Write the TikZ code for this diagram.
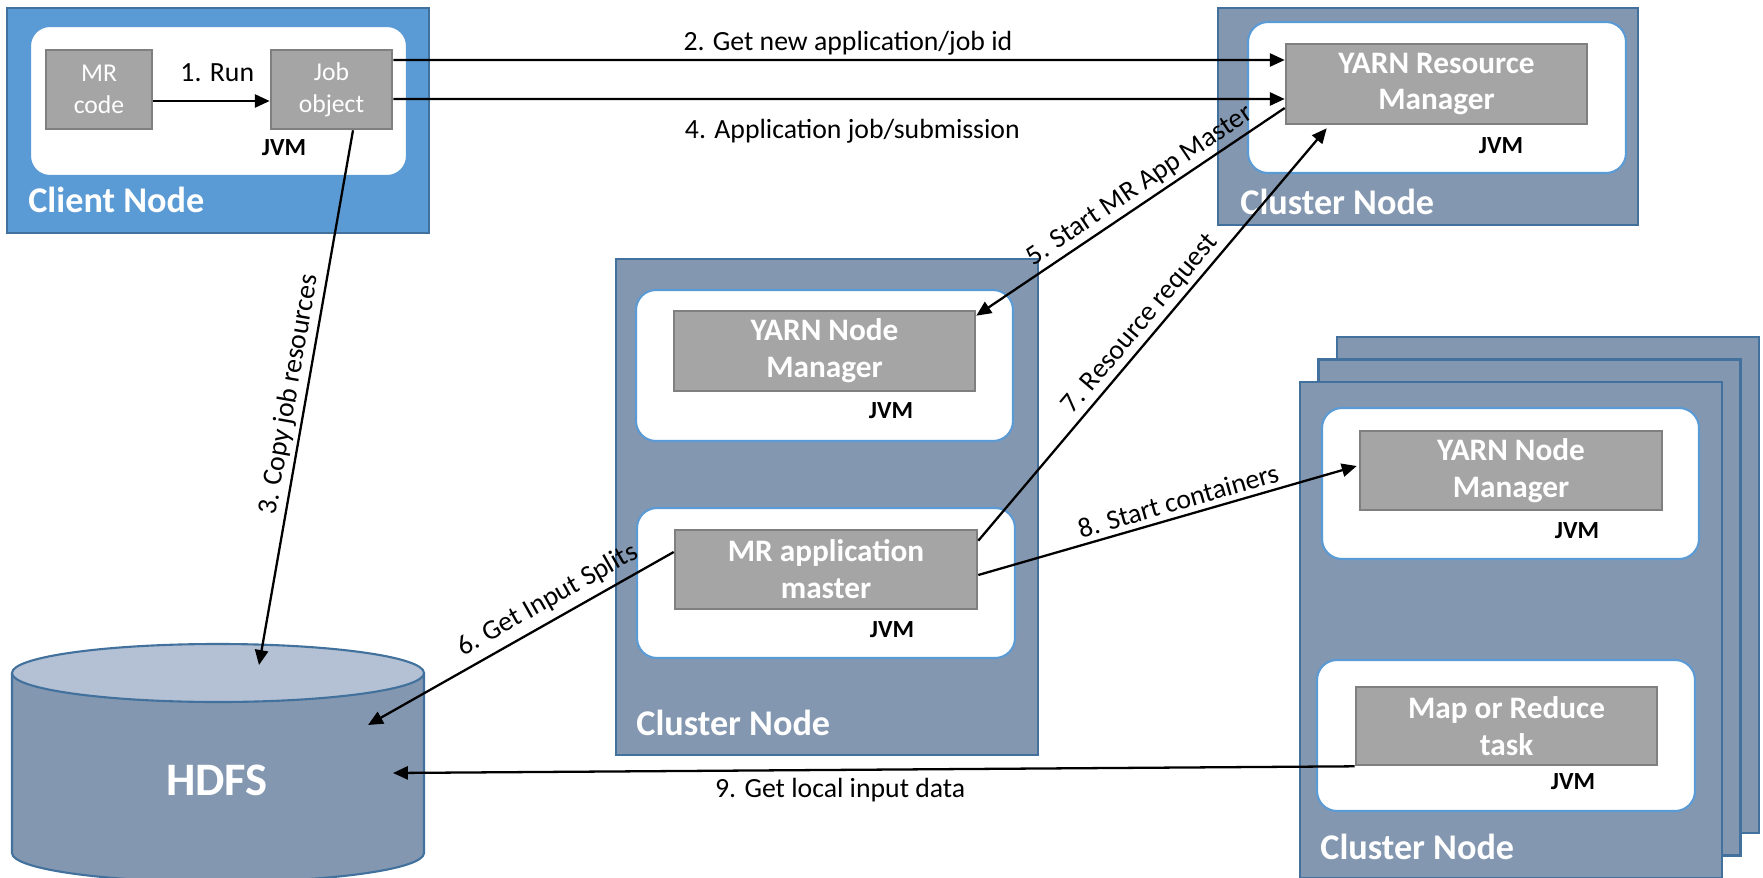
\documentclass[tikz,border=0pt]{standalone}
\usepackage{fontspec}
\setmainfont{Carlito}
\usetikzlibrary{arrows.meta}

\definecolor{clientblue}{HTML}{5B9BD5}
\definecolor{edgeblue}{HTML}{41719C}
\definecolor{clustergray}{HTML}{8497B0}
\definecolor{hdfstop}{HTML}{B4C0D3}
\definecolor{boxgray}{HTML}{A5A5A5}
\definecolor{boxedge}{HTML}{7F7F7F}

\tikzset{
  clientnode/.style={draw=edgeblue, fill=clientblue, line width=1.2pt},
  clusternode/.style={draw=edgeblue, fill=clustergray, line width=1.2pt},
  jvmbox/.style={draw=clientblue, fill=white, line width=1.2pt, rounded corners=0.4cm},
  taskbox/.style={draw=boxedge, fill=boxgray, line width=1.5pt, text=white, align=center, inner sep=0pt, font=\fontsize{17.8}{21}\selectfont\bfseries},
  codebox/.style={taskbox, font=\fontsize{14.6}{18}\selectfont},
  jvm/.style={font=\fontsize{14}{16}\selectfont\bfseries},
  caption/.style={text=white, anchor=base west, inner sep=0pt, font=\fontsize{20.6}{24}\selectfont\bfseries},
  msg/.style={-{Triangle[length=8.5pt,width=7.5pt]}, line width=1.3pt},
  lbl/.style={inner sep=0pt, font=\fontsize{15.8}{18}\selectfont}
}

\begin{document}
\begin{tikzpicture}[x=0.02cm, y=-0.02cm]
\useasboundingbox (0,0) rectangle (1763,878);

\draw[clientnode] (7,8) rectangle (429,233);
\draw[jvmbox] (30,26) rectangle (407,176);
\node[codebox, minimum width=2.12cm, minimum height=1.58cm] (mrcode) at (99,89.5) {MR\\code};
\node[codebox, minimum width=2.42cm, minimum height=1.58cm] (job) at (331.5,89.5) {Job\\object};
\node[jvm] (jvmclient) at (284,148) {JVM};
\node[caption] (client) at (28,213) {Client Node};

\draw[clusternode] (1218,8) rectangle (1638,225);
\draw[jvmbox] (1248,22) rectangle (1626,173);
\node[taskbox, minimum width=6.02cm, minimum height=1.6cm] (rm) at (1436.5,84) {YARN Resource\\Manager};
\node[jvm] (jvmrm) at (1501,146) {JVM};
\node[caption] (clusterrm) at (1240,215) {Cluster Node};

\draw[clusternode] (616,259) rectangle (1038,755);
\draw[jvmbox] (636,290) rectangle (1013,441);
\draw[jvmbox] (637,508) rectangle (1015,658);
\node[taskbox, minimum width=6.02cm, minimum height=1.6cm] (nm) at (824.5,351) {YARN Node\\Manager};
\node[taskbox, minimum width=6.04cm, minimum height=1.58cm] (am) at (826,569.5) {MR application\\master};
\node[jvm] (jvmnm) at (891,411) {JVM};
\node[jvm] (jvmam) at (892,630) {JVM};
\node[caption] (clusteram) at (636,735) {Cluster Node};

\foreach \d in {2,1,0}
  \draw[clusternode] (1300+18.5*\d,382-22.5*\d) rectangle +(422,496);
\draw[jvmbox] (1322,408) rectangle (1699,559);
\draw[jvmbox] (1317,660) rectangle (1695,811);
\node[taskbox, minimum width=6.04cm, minimum height=1.58cm] (nm2) at (1511,470.5) {YARN Node\\Manager};
\node[taskbox, minimum width=6.02cm, minimum height=1.56cm] (task) at (1506.5,726) {Map or Reduce\\task};
\node[jvm] (jvmnm2) at (1577,531) {JVM};
\node[jvm] (jvmtask) at (1573,782) {JVM};
\node[caption] (clustertask) at (1320,859) {Cluster Node};

\fill[clustergray] (12,673) -- (12,853) arc[start angle=180, end angle=0, x radius=206, y radius=29] -- (424,673) -- cycle;
\draw[edgeblue, line width=1.2pt] (12,673) -- (12,853) arc[start angle=180, end angle=0, x radius=206, y radius=29] -- (424,673);
\draw[edgeblue, fill=hdfstop, line width=1.2pt] (218,673) ellipse[x radius=206, y radius=29];
\node[text=white, font=\fontsize{26.5}{30}\selectfont\bfseries] (hdfs) at (217,780) {HDFS};
\coordinate (hdfsin3) at (259,665);
\coordinate (hdfsin6) at (368,725);
\coordinate (hdfsin9) at (393,773);

\draw[msg] ([yshift=-0.23cm]mrcode.east) -- node[lbl, above=0.36cm, pos=0.55] (l1) {1. Run} ([yshift=-0.23cm]job.west);
\draw[msg] ([yshift=0.59cm]job.east) -- node[lbl, above=0.08cm, pos=0.51] (l2) {2. Get new application/job id} ([yshift=0.48cm]rm.west);
\draw[msg] ([xshift=0.43cm]job.south) -- node[lbl, sloped, above=2pt] (l3) {3. Copy job resources} (hdfsin3);
\draw[msg] ([yshift=-0.19cm]job.east) -- node[lbl, below=0.38cm, pos=0.515] (l4) {4. Application job/submission} ([yshift=-0.3cm]rm.west);
\draw[msg] ([yshift=-0.48cm]rm.west) -- node[lbl, sloped, above=2pt, pos=0.44] (l5) {5. Start MR App Master} ([yshift=-0.12cm]nm.north east);
\draw[msg] ([yshift=0.35cm]am.west) -- node[lbl, sloped, above=4pt, pos=0.38] (l6) {6. Get Input Splits} (hdfsin6);
\draw[msg] ([yshift=-0.24cm]am.north east) -- node[lbl, sloped, above=2pt] (l7) {7. Resource request} ([xshift=0.84cm, yshift=-0.06cm]rm.south west);
\draw[msg] ([yshift=-0.11cm]am.east) -- node[lbl, sloped, above=3pt, pos=0.54] (l8) {8. Start containers} ([xshift=-0.04cm, yshift=0.09cm]nm2.west);
\draw[msg] (task.south west) -- node[lbl, below=0.14cm, pos=0.535] (l9) {9. Get local input data} (hdfsin9);
\end{tikzpicture}
\end{document}
